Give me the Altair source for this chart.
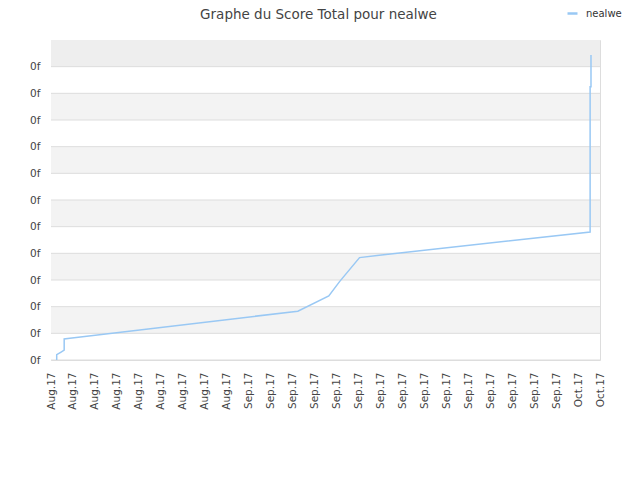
import altair as alt
import pandas as pd

# ---- data ----
x_labels = ["Aug.17"] * 9 + ["Sep.17"] * 15 + ["Oct.17"] * 2
y_ticks = list(range(12))
y_label = "0f"
series_name = "nealwe"

line_x = [0.26, 0.26, 0.44, 0.60, 0.60, 0.86, 11.24, 12.65, 13.14, 14.05, 14.95, 24.55, 24.55, 24.59, 24.59]
line_y = [0.00, 0.20, 0.29, 0.37, 0.79, 0.82, 1.83, 2.40, 2.94, 3.84, 3.93, 4.80, 10.25, 10.25, 11.44]

band_lo = list(range(12))

# ---- tables ----
line_df = pd.DataFrame({"x": line_x, "y": line_y, "i": range(len(line_x)), "s": series_name})
band_df = pd.DataFrame({"lo": band_lo, "hi": [b + 1 for b in band_lo]})
grid_df = pd.DataFrame({"v": y_ticks})

x_max = len(x_labels) - 1
y_max = len(y_ticks)

xscale = alt.Scale(domain=[0, x_max], nice=False, zero=False)
yscale = alt.Scale(domain=[0, y_max], nice=False)

label_array = "[" + ",".join("'%s'" % l for l in x_labels) + "]"

FONT = "DejaVu Sans"
TXT = "#444444"

y_axis = alt.Axis(
    values=y_ticks,
    labelExpr="'" + y_label + "'",
    labelFontSize=10.5,
    labelFont=FONT,
    labelColor=TXT,
    ticks=False,
    grid=False,
    domain=False,
    labelPadding=11,
    title=None,
)

x_axis = alt.Axis(
    values=list(range(len(x_labels))),
    labelExpr=label_array + "[datum.value]",
    labelAngle=-90,
    labelFontSize=10.5,
    labelFont=FONT,
    labelColor=TXT,
    ticks=False,
    grid=False,
    domain=False,
    labelPadding=12,
    labelOverlap=False,
    labelFlush=False,
    title=None,
)

bands = (
    alt.Chart(band_df)
    .transform_calculate(
        fill="datum.lo == 11 ? '#eeeeee' : (datum.lo % 2 == 1 ? '#f3f3f3' : '#ffffff')"
    )
    .mark_rect()
    .encode(
        x=alt.value(0),
        x2=alt.value("width"),
        y=alt.Y("lo:Q", scale=yscale, axis=y_axis),
        y2="hi:Q",
        fill=alt.Fill("fill:N", scale=None, legend=None),
    )
)

grid = (
    alt.Chart(grid_df)
    .mark_rule(color="#dddddd", strokeWidth=1)
    .encode(y=alt.Y("v:Q", scale=yscale, axis=y_axis))
)

line = (
    alt.Chart(line_df)
    .mark_line(strokeWidth=1.5, interpolate="linear")
    .encode(
        x=alt.X("x:Q", scale=xscale, axis=x_axis),
        y=alt.Y("y:Q", scale=yscale, axis=y_axis),
        order="i:Q",
        color=alt.Color(
            "s:N",
            scale=alt.Scale(domain=[series_name], range=["#99c8f4"]),
            legend=alt.Legend(
                title=None,
                orient="none",
                legendX=515,
                legendY=-33,
                symbolType="stroke",
                symbolSize=100,
                symbolStrokeWidth=2.5,
                labelFontSize=10,
                labelFont=FONT,
                labelColor="#333333",
                labelOffset=7,
            ),
        ),
    )
)

chart = (
    alt.layer(bands, grid, line)
    .properties(
        width=549,
        height=320,
        title=alt.TitleParams(
            "Graphe du Score Total pour nealwe",
            fontSize=13.5,
            font=FONT,
            fontWeight="normal",
            color=TXT,
            anchor="middle",
            baseline="alphabetic",
            offset=0,
            dy=25,
            dx=-7,
        ),
        padding={"left": 43, "top": 32, "right": 32, "bottom": 100},
        autosize=alt.AutoSizeParams(type="none"),
    )
    .configure_view(stroke="#d6d6d6", strokeWidth=1)
    .configure(background="white")
)

chart.save("out.html", embed_options={"renderer": "svg", "actions": False})
